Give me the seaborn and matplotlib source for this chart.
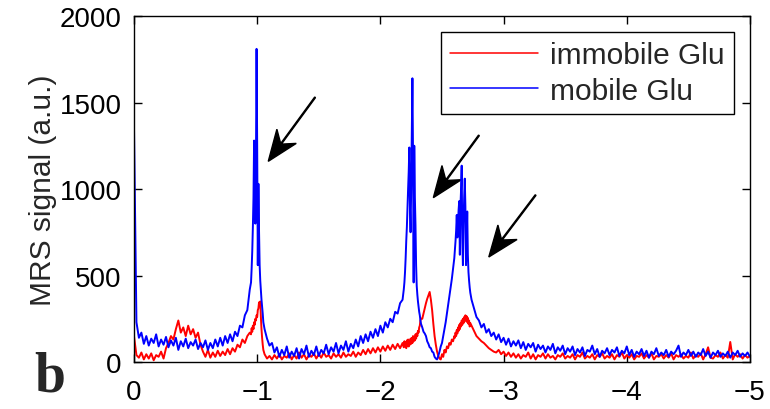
import matplotlib
matplotlib.use("Agg")
import matplotlib.pyplot as plt
from matplotlib.patches import FancyArrow
import numpy as np
import pandas as pd
import seaborn as sns

# chemical-shift grid (ppm): (start, stop, n points); finer through the peaks
ppm_segments = [(0.0, -0.94, 48), (-0.95, -1.05, 21), (-1.06, -2.18, 57),
                (-2.19, -2.33, 29), (-2.34, -2.60, 27), (-2.605, -2.73, 26),
                (-2.74, -5.00, 114)]

# mobile Glu (blue)
mobile_seg1 = [1360, 230, 140, 170, 105, 150, 95, 135, 110, 160,
               90, 130, 100, 145, 85, 125, 95, 140, 70, 120,
               90, 135, 80, 115, 95, 130, 75, 110, 85, 125,
               70, 110, 80, 130, 90, 140, 95, 150, 110, 160,
               120, 175, 150, 210, 200, 270, 300, 420]
mobile_seg2 = [460, 540, 640, 780, 950, 1280, 1120, 800, 1150, 1810,
               1250, 560, 1030, 760, 560, 470, 410, 360, 320, 280, 230]
mobile_seg3 = [190, 135, 95, 110, 55, 85, 30, 70, 40, 90,
               25, 60, 35, 80, 20, 75, 45, 95, 30, 65,
               40, 90, 35, 70, 50, 100, 45, 85, 60, 110,
               50, 95, 70, 120, 60, 105, 80, 130, 90, 150,
               110, 160, 120, 175, 140, 190, 150, 210, 170, 230,
               200, 250, 230, 290, 280, 340, 360]
mobile_seg4 = [420, 460, 520, 600, 700, 780, 900, 1000, 1100, 1240,
               900, 750, 1000, 1350, 1640, 1200, 460, 1250, 950, 790,
               560, 440, 390, 350, 320, 290, 270, 240, 220]
mobile_seg5 = [200, 175, 165, 150, 120, 105, 85, 80, 60, 55,
               30, 20, 15, 35, 60, 90, 110, 150, 190, 230,
               280, 330, 380, 430, 480, 540, 600]
mobile_seg6 = [650, 700, 760, 850, 720, 800, 880, 930, 620, 900,
               1000, 1135, 700, 560, 800, 950, 1060, 900, 560, 700,
               870, 620, 520, 470, 430, 400]
mobile_seg7 = [360, 310, 260, 240, 200, 220, 170, 190, 150, 170,
               130, 160, 115, 140, 100, 135, 90, 120, 95, 125,
               80, 115, 70, 105, 85, 110, 60, 100, 75, 95,
               55, 90, 70, 105, 50, 85, 65, 95, 45, 80,
               60, 90, 40, 75, 55, 85, 35, 70, 60, 95,
               45, 75, 30, 65, 50, 80, 40, 70, 55, 85,
               35, 65, 50, 90, 40, 70, 30, 60, 45, 75,
               35, 65, 25, 60, 45, 80, 35, 55, 40, 70,
               30, 60, 45, 65, 95, 30, 55, 40, 70, 35,
               60, 30, 55, 40, 75, 35, 60, 25, 55, 40,
               65, 30, 50, 35, 60, 25, 55, 40, 65, 30,
               50, 35, 55, 30]

# immobile Glu (red)
immobile_seg1 = [150, 40, 25, 55, 15, 45, 20, 50, 10, 40,
                 30, 60, 20, 80, 110, 150, 130, 190, 240, 170,
                 200, 150, 210, 160, 190, 140, 170, 100, 60, 30,
                 70, 25, 55, 30, 65, 35, 60, 40, 75, 45,
                 80, 60, 100, 85, 130, 110, 150, 170]
immobile_seg2 = [160, 195, 175, 210, 190, 230, 215, 250, 240, 270,
                 260, 300, 310, 345, 330, 350, 260, 190, 140, 100, 70]
immobile_seg3 = [45, 20, 35, 15, 40, 20, 45, 15, 35, 25,
                 50, 15, 40, 20, 55, 25, 45, 15, 40, 30,
                 50, 20, 45, 25, 55, 30, 40, 20, 50, 30,
                 45, 25, 55, 30, 45, 35, 60, 30, 55, 40,
                 70, 45, 75, 50, 80, 55, 85, 60, 90, 65,
                 95, 70, 100, 75, 105, 80, 110]
immobile_seg4 = [85, 120, 90, 115, 80, 125, 95, 130, 90, 120,
                 100, 135, 105, 140, 110, 150, 120, 145, 125, 160,
                 135, 165, 150, 180, 170, 200, 210, 240, 250]
immobile_seg5 = [250, 280, 310, 340, 365, 385, 405, 360, 300, 220,
                 150, 100, 60, 35, 20, 15, 45, 30, 70, 55,
                 90, 80, 110, 100, 130, 120, 150]
immobile_seg6 = [140, 170, 150, 185, 165, 200, 180, 215, 190, 225,
                 205, 240, 215, 250, 225, 260, 235, 270, 245, 265,
                 230, 255, 220, 240, 205, 225]
immobile_seg7 = [210, 180, 150, 135, 120, 110, 95, 80, 70, 60,
                 55, 70, 45, 60, 35, 55, 30, 50, 25, 45,
                 20, 40, 30, 55, 20, 45, 15, 40, 30, 50,
                 20, 45, 25, 35, 15, 40, 30, 50, 20, 35,
                 25, 45, 15, 40, 30, 55, 20, 35, 25, 45,
                 15, 40, 30, 50, 20, 35, 25, 45, 15, 40,
                 30, 55, 20, 40, 25, 45, 15, 35, 30, 50,
                 20, 40, 25, 50, 15, 35, 30, 45, 20, 40,
                 25, 50, 15, 40, 30, 45, 20, 35, 25, 55,
                 20, 40, 30, 50, 15, 45, 85, 25, 20, 40,
                 30, 55, 20, 40, 25, 116, 15, 45, 30, 45,
                 20, 40, 25, 35]

labels = ["immobile Glu", "mobile Glu"]
colors = {"immobile Glu": "#ff0000", "mobile Glu": "#0000ff"}

# arrows: (tail ppm, tail signal) -> (head ppm, head signal)
arrow_tails = [(-1.47, 1530), (-2.80, 1310), (-3.26, 965)]
arrow_heads = [(-1.09, 1160), (-2.43, 950), (-2.88, 607)]

ppm = np.concatenate([np.linspace(a, b, n) for a, b, n in ppm_segments])
mobile = np.concatenate([mobile_seg1, mobile_seg2, mobile_seg3, mobile_seg4,
                         mobile_seg5, mobile_seg6, mobile_seg7])
immobile = np.concatenate([immobile_seg1, immobile_seg2, immobile_seg3,
                           immobile_seg4, immobile_seg5, immobile_seg6,
                           immobile_seg7])

df = pd.concat([
    pd.DataFrame({"ppm": ppm, "signal": immobile, "sample": labels[0]}),
    pd.DataFrame({"ppm": ppm, "signal": mobile, "sample": labels[1]}),
])

sns.set_style("ticks")
plt.rcParams["font.family"] = ["Liberation Sans", "DejaVu Sans"]

fig = plt.figure(figsize=(7.7, 4.1), dpi=100)
ax = fig.add_axes([0.174, 0.1146, 0.8, 0.8439])

sns.lineplot(data=df, x="ppm", y="signal", hue="sample", hue_order=labels,
             palette=colors, estimator=None, sort=False, linewidth=1.4,
             ax=ax)

ax.set_xlim(0, -5)
ax.set_ylim(0, 2000)
ax.set_xticks([0, -1, -2, -3, -4, -5])
ax.set_yticks([0, 500, 1000, 1500, 2000])
ax.set_xlabel("")
ax.set_ylabel("MRS signal (a.u.)", fontsize=21.5, labelpad=2)
ax.tick_params(direction="in", length=6, width=1, top=True, right=True,
               labelsize=20, colors="black")
ax.tick_params(axis="x", pad=12)
ax.tick_params(axis="y", pad=9)
for s in ax.spines.values():
    s.set_visible(True)
    s.set_linewidth(1.0)
    s.set_color("black")

handles, _ = ax.get_legend_handles_labels()
for h in handles:
    h.set_linewidth(1.1)
leg = ax.legend(handles=handles, labels=labels, loc="upper right",
                fontsize=21.5, frameon=True, fancybox=False, framealpha=1,
                edgecolor="black", handlelength=2.95, labelspacing=0.25,
                borderaxespad=0.55, borderpad=0.3, handletextpad=0.4)
leg.get_frame().set_linewidth(1.0)

# notched arrowheads drawn in inch space so they keep their shape
to_in = ax.transData + fig.dpi_scale_trans.inverted()
for tail, head in zip(arrow_tails, arrow_heads):
    (x0, y0), (x1, y1) = to_in.transform([tail, head])
    ax.add_patch(FancyArrow(x0, y0, x1 - x0, y1 - y0, width=0.01,
                            head_width=0.24, head_length=0.31, overhang=0.3,
                            length_includes_head=True, color="black",
                            transform=fig.dpi_scale_trans, clip_on=False))

fig.text(34 / 770, 1 - 392 / 410, "b", fontsize=40, fontweight="bold",
         family="Liberation Serif", ha="left", va="baseline")

fig.savefig("out.png", dpi=100)
